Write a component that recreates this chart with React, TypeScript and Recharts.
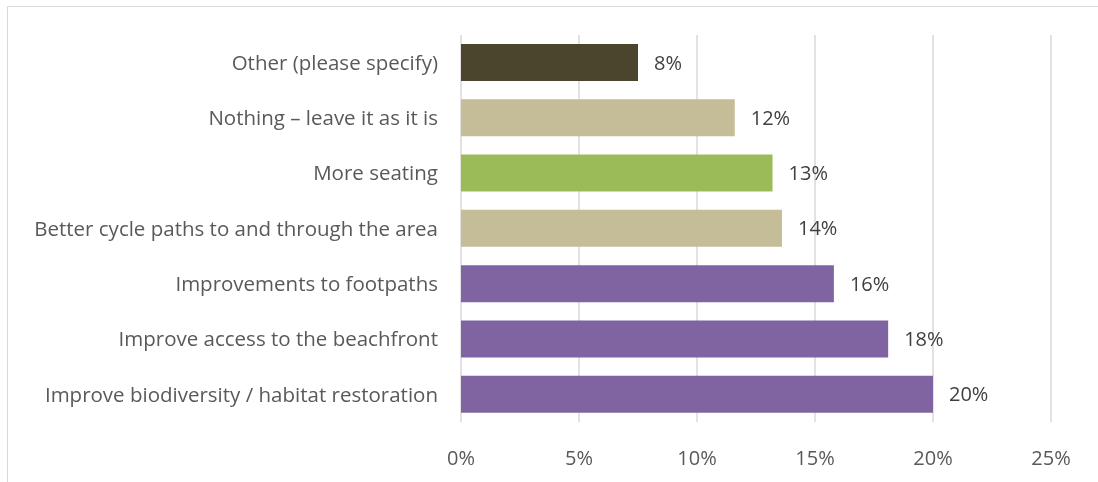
import { Bar, BarChart, CartesianGrid, Cell, LabelList, XAxis, YAxis } from 'recharts';

const categories = [
  'Other (please specify)',
  'Nothing \u2013 leave it as it is',
  'More seating',
  'Better cycle paths to and through the area',
  'Improvements to footpaths',
  'Improve access to the beachfront',
  'Improve biodiversity / habitat restoration',
];
const shares = [7.5, 11.6, 13.2, 13.6, 15.8, 18.1, 20.0];
const barColors = ['#4b452d', '#c4bd97', '#9bbb59', '#c4bd97', '#8064a2', '#8064a2', '#8064a2'];
const xTicks = [0, 5, 10, 15, 20, 25];

const FONT = '"Open Sans", "Liberation Sans", sans-serif';

export default function App() {
  const data = categories.map((name, i) => ({ name, value: shares[i] }));

  return (
    <>
      <div
        style={{
          position: 'fixed',
          left: 7,
          top: 6,
          right: -20,
          bottom: -20,
          border: '1.5px solid #d9d9d9',
        }}
      />
      <div style={{ position: 'fixed', left: 0, top: 0 }}>
        <BarChart
          width={1098}
          height={482}
          data={data}
          layout="vertical"
          margin={{ top: 35, right: 47, bottom: 30, left: 0 }}
          style={{ fontFamily: FONT }}
        >
          <CartesianGrid horizontal={false} stroke="#d9d9d9" strokeWidth={1.5} />
          <XAxis
            type="number"
            domain={[0, 25]}
            ticks={xTicks}
            tickFormatter={(v: number) => `${v}%`}
            axisLine={false}
            tickLine={false}
            tickSize={0}
            tickMargin={29}
            height={30}
            tick={{ fill: '#595959', fontSize: 20 }}
          />
          <YAxis
            type="category"
            dataKey="name"
            width={461}
            axisLine={false}
            tickLine={false}
            tickSize={0}
            tickMargin={23}
            interval={0}
            tick={{ fill: '#595959', fontSize: 20.5 }}
          />
          <Bar dataKey="value" barSize={37} isAnimationActive={false}>
            {data.map((d, i) => (
              <Cell key={d.name} fill={barColors[i]} />
            ))}
            <LabelList
              dataKey="value"
              position="right"
              offset={16}
              fill="#404040"
              fontSize={20}
              formatter={(v: any) => `${Math.round(Number(v))}%`}
            />
          </Bar>
        </BarChart>
      </div>
    </>
  );
}
